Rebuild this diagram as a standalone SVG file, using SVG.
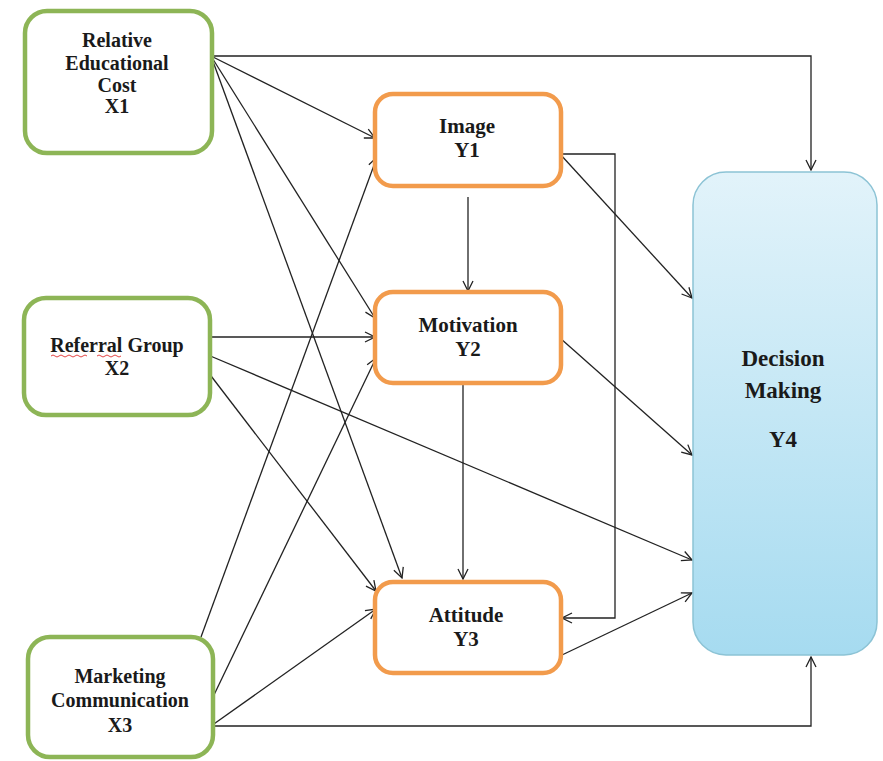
<svg xmlns="http://www.w3.org/2000/svg" width="883" height="761" viewBox="0 0 883 761">
<defs>
<linearGradient id="blueGrad" x1="0" y1="0" x2="0" y2="1">
<stop offset="0" stop-color="#E2F3FA"/>
<stop offset="1" stop-color="#A6DBF0"/>
</linearGradient>
<marker id="arr" viewBox="0 0 12 12" refX="11" refY="6" markerWidth="12" markerHeight="12" markerUnits="userSpaceOnUse" orient="auto">
<path d="M1,1 L11,6 L1,11" fill="none" stroke="#222" stroke-width="1.3"/>
</marker>
</defs>
<style>
.xnode{fill:#fff;stroke:#8DB556;stroke-width:4.5}
.ynode{fill:#fff;stroke:#F29B4C;stroke-width:4.5}
.dnode{fill:url(#blueGrad);stroke:#8CC3D5;stroke-width:1.5}
.t{font-family:"Liberation Serif","Times New Roman",serif;font-weight:bold;fill:#1a1a1a;text-anchor:middle}
.tx{font-size:20px}
.ty{font-size:21px}
.td{font-size:23px}
.c{fill:none;stroke:#222;stroke-width:1.3;marker-end:url(#arr)}
</style>
<rect width="883" height="761" fill="#fff"/>
<g id="connectors">
<polyline class="c" points="211,56 811,56 811,170"/>
<line class="c" x1="211" y1="56" x2="375" y2="138"/>
<line class="c" x1="211" y1="56" x2="375" y2="318"/>
<line class="c" x1="211" y1="56" x2="402" y2="578"/>
<line class="c" x1="208" y1="337" x2="375" y2="337"/>
<line class="c" x1="208" y1="355" x2="692" y2="560"/>
<line class="c" x1="208" y1="372" x2="376" y2="591"/>
<line class="c" x1="201" y1="637" x2="377" y2="157"/>
<line class="c" x1="213" y1="697" x2="376" y2="358"/>
<line class="c" x1="211" y1="726" x2="376" y2="609"/>
<polyline class="c" points="211,726 811,726 811,657"/>
<line class="c" x1="468" y1="197" x2="468" y2="291"/>
<line class="c" x1="463" y1="384" x2="463" y2="579"/>
<line class="c" x1="560" y1="154" x2="692" y2="298"/>
<polyline class="c" points="560,154 615,154 615,618 562,618"/>
<line class="c" x1="560" y1="338" x2="692" y2="455"/>
<line class="c" x1="562" y1="655" x2="692" y2="593"/>
</g>
<g id="X1">
<rect class="xnode" x="25" y="11" width="187" height="142" rx="22"/>
<text class="t tx" x="117" y="47">Relative</text>
<text class="t tx" x="117" y="70">Educational</text>
<text class="t tx" x="117" y="92">Cost</text>
<text class="t tx" x="117" y="113">X1</text>
</g>
<g id="X2">
<rect class="xnode" x="24" y="298" width="186" height="117" rx="22"/>
<text class="t tx" x="117" y="352">Referral Group</text>
<text class="t tx" x="117" y="375">X2</text>
<path d="M51,356 q2,-2 4,0 t4,0 t4,0 t4,0 t4,0 t4,0 t4,0 t4,0 t4,0 M97,356 q2,-2 4,0 t4,0 t4,0 t4,0 t4,0 t4,0" fill="none" stroke="#E03030" stroke-width="0.9"/>
</g>
<g id="X3">
<rect class="xnode" x="28" y="637" width="185" height="120" rx="22"/>
<text class="t tx" x="120" y="683">Marketing</text>
<text class="t tx" x="120" y="707">Communication</text>
<text class="t tx" x="120" y="732">X3</text>
</g>
<g id="Y1">
<rect class="ynode" x="375" y="94" width="186" height="92" rx="18"/>
<text class="t ty" x="467" y="133">Image</text>
<text class="t ty" x="467" y="157">Y1</text>
</g>
<g id="Y2">
<rect class="ynode" x="375" y="292" width="186" height="91" rx="18"/>
<text class="t ty" x="468" y="332">Motivation</text>
<text class="t ty" x="468" y="356">Y2</text>
</g>
<g id="Y3">
<rect class="ynode" x="375" y="582" width="186" height="91" rx="18"/>
<text class="t ty" x="466" y="622">Attitude</text>
<text class="t ty" x="466" y="646">Y3</text>
</g>
<g id="Y4">
<rect class="dnode" x="693" y="172" width="184" height="483" rx="33"/>
<text class="t td" x="783" y="366">Decision</text>
<text class="t td" x="783" y="398">Making</text>
<text class="t td" x="783" y="447">Y4</text>
</g>
</svg>
